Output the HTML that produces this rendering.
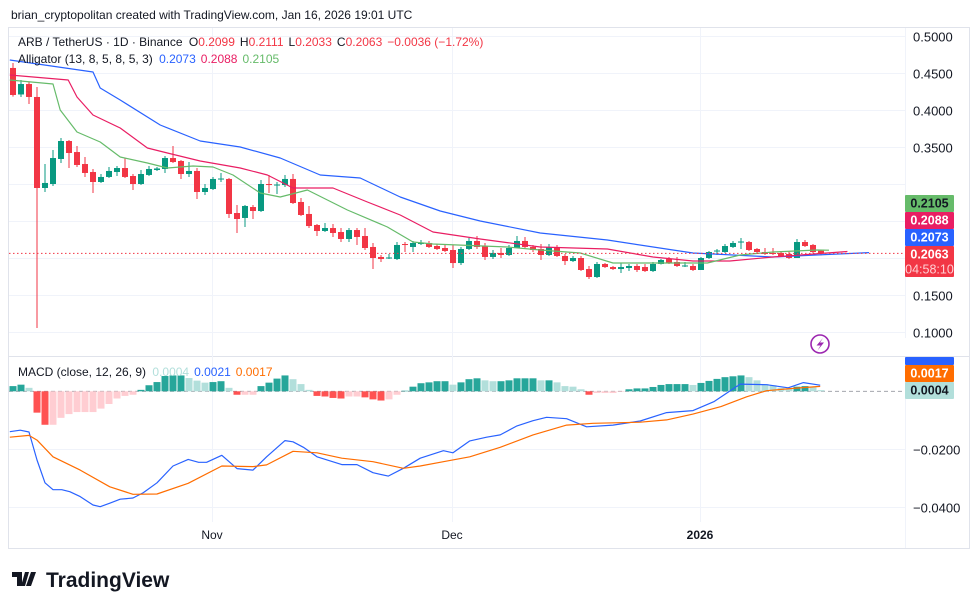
<!DOCTYPE html>
<html><head><meta charset="utf-8">
<style>
body{margin:0;background:#fff;font-family:"Liberation Sans",sans-serif;}
svg{display:block}
text{font-family:"Liberation Sans",sans-serif}
</style></head>
<body>
<svg id="c" width="980" height="609" viewBox="0 0 980 609" xmlns="http://www.w3.org/2000/svg">
<text x="11" y="19" font-size="12" fill="#131722">brian_cryptopolitan created with TradingView.com, Jan 16, 2026 19:01 UTC</text>
<rect x="8.5" y="27.5" width="961" height="521" fill="none" stroke="#e0e3eb"/>
<line x1="905.5" y1="28" x2="905.5" y2="548" stroke="#f0f3fa"/>
<line x1="9" y1="356.5" x2="969" y2="356.5" stroke="#e0e3eb"/>
<g id="grid"></g>
<g id="price"></g>
<g id="macd"></g>
<g id="axes"></g>
<text x="18" y="46" font-size="12" fill="#131722">ARB / TetherUS · 1D · Binance <tspan dx="3">O</tspan><tspan fill="#f23645">0.2099</tspan><tspan dx="5">H</tspan><tspan fill="#f23645">0.2111</tspan><tspan dx="5">L</tspan><tspan fill="#f23645">0.2033</tspan><tspan dx="5">C</tspan><tspan fill="#f23645">0.2063</tspan><tspan dx="5" fill="#f23645">−0.0036 (−1.72%)</tspan></text>
<text x="18" y="63" font-size="12" fill="#131722">Alligator (13, 8, 5, 8, 5, 3) <tspan dx="3" fill="#2962ff">0.2073</tspan><tspan dx="5" fill="#e91e63">0.2088</tspan><tspan dx="5" fill="#66bb6a">0.2105</tspan></text>
<text x="18" y="376" font-size="12" fill="#131722">MACD (close, 12, 26, 9) <tspan dx="3" fill="#b2dfdb">0.0004</tspan><tspan dx="5" fill="#2962ff">0.0021</tspan><tspan dx="5" fill="#ff6d00">0.0017</tspan></text>
<g><circle cx="820" cy="344" r="9" fill="#fff" stroke="#9c27b0" stroke-width="1.6"/><path d="M823 338 L816.5 345.5 L820.5 345.5 L817.5 350.5 L824 342.5 L820 342.5 Z" fill="#9c27b0"/></g>
<g><path d="M12 572 h10 v14 h-5 v-9 h-5z M25 572 h4 l-4 14 h-4z M31 572 h5 l-5 14 h-5z" fill="#131722"/><text x="46" y="587" font-size="21" font-weight="bold" fill="#131722">TradingView</text></g>
</svg>
<script>
// ---- price data (OHLC) ----
const opens=[.4568,.421,.4351,.4176,.2946,.30,.3338,.3581,.3432,.327,.3162,.3027,.3095,.3162,.3216,.3108,.30,.3122,.3189,.3203,.3351,.3311,.3135,.3176,.2892,.2932,.3061,.3068,.2608,.2541,.2689,.2635,.30,.2986,.2986,.3068,.2757,.2595,.2446,.2365,.2405,.2351,.2257,.2378,.2297,.2149,.2014,.1993,.1986,.2189,.2149,.2189,.2203,.2162,.2135,.2108,.1932,.2122,.223,.2162,.2014,.2068,.2041,.2135,.223,.2149,.2122,.2041,.2149,.2027,.1959,.20,.1851,.1743,.1919,.1878,.1851,.1865,.1892,.1878,.1824,.1919,.1986,.1946,.1885,.1892,.1838,.20,.2088,.2081,.2149,.2209,.2216,.2122,.2081,.2068,.2068,.2054,.20,.2216,.2176,.2099];
const highs=[.4635,.4405,.438,.4311,.327,.346,.3622,.3595,.3514,.3365,.3203,.3135,.323,.3243,.3351,.3135,.3189,.3243,.323,.3378,.3514,.3324,.3297,.3216,.30,.3095,.3149,.3081,.2716,.2716,.2716,.3054,.3122,.3027,.3122,.3135,.2811,.2703,.2459,.2473,.2459,.2405,.2405,.2405,.2405,.2203,.2041,.2054,.2216,.2216,.223,.2243,.223,.2189,.2189,.2176,.2149,.227,.2297,.2203,.2108,.2135,.2176,.2297,.2284,.2176,.2189,.2189,.2176,.2054,.2027,.2027,.1892,.1946,.1932,.1892,.1932,.1919,.1919,.1919,.1946,.1986,.2014,.2014,.1946,.1919,.2014,.2095,.2122,.2189,.223,.227,.223,.2135,.2135,.2135,.2095,.2095,.2257,.2243,.2189,.2111];
const lows=[.418,.4176,.4081,.1054,.2892,.2973,.3284,.3216,.323,.3095,.2878,.3014,.3081,.3108,.3081,.2919,.2986,.3108,.3176,.3149,.3284,.3068,.3095,.2797,.2851,.2919,.3027,.2541,.2338,.2419,.2527,.2622,.2878,.2865,.2959,.273,.2568,.2405,.2297,.2351,.2284,.2216,.2216,.2176,.2108,.1851,.1946,.1986,.1973,.2081,.2081,.2176,.2135,.2108,.2081,.1865,.1905,.2108,.2122,.1973,.1986,.20,.2027,.2203,.2135,.2081,.1973,.2027,.2014,.1905,.1946,.1824,.1716,.173,.1865,.1838,.1797,.1824,.1811,.1811,.1811,.1912,.1919,.1878,.1878,.1824,.1838,.1986,.2041,.2068,.2135,.2122,.2095,.2054,.2041,.2041,.2014,.1986,.20,.2149,.2068,.2033];
const closes=[.4203,.4351,.4176,.2946,.3014,.3351,.3581,.3419,.3257,.3149,.3027,.3095,.3176,.3216,.3095,.30,.3135,.3203,.321,.3351,.3297,.3135,.3176,.2892,.2946,.3068,.3074,.2595,.2527,.2703,.2635,.30,.2986,.2993,.3068,.2743,.2581,.2432,.2365,.2405,.2338,.2257,.2378,.2284,.2135,.20,.1986,.2007,.2176,.2176,.2203,.2203,.2149,.2122,.2095,.1932,.2122,.223,.2149,.2014,.2068,.2041,.2135,.223,.2149,.2108,.2041,.2149,.2027,.1959,.20,.1838,.1743,.1919,.1878,.1851,.1878,.1892,.1838,.1824,.1919,.1973,.1932,.1892,.1899,.1838,.20,.2081,.2101,.2162,.2203,.2223,.2108,.2081,.2054,.2054,.2027,.20,.2216,.2162,.2081,.2063];
// ---- alligator (bar index, value) ----
const jawIdx=[-0.4,10,10.9,13.4,18.4,23.4,28.4,33.4,38.4,43.4,48.4,53.4,58.4,65.9,74.3,82.5,85,95,107];
const jawVal=[.4676,.4514,.4297,.4135,.3797,.3581,.35,.3351,.3122,.3081,.2824,.2635,.25,.2338,.2243,.2108,.2068,.2014,.2073];
const teethIdx=[-0.4,6.9,8,10,13.4,16.8,19.3,23.4,28.4,31.8,35,40,44.3,48.4,52.5,58.4,65.9,74.3,80,85,89.6,95,104.3];
const teethVal=[.4473,.4405,.4176,.3932,.3757,.3486,.3419,.3311,.3216,.3122,.2946,.2946,.2757,.2581,.2351,.2257,.2149,.2122,.2014,.1959,.1959,.2014,.2088];
const lipsIdx=[-0.4,5,5.9,8,10.9,13.4,16.8,19.3,22.5,25,27.5,30.9,33.4,36.8,41.8,46.8,50,52.5,61.8,65.9,70.9,75,80,86.8,90.9,95,100.5,102];
const lipsVal=[.4405,.4351,.40,.3703,.3568,.3365,.3284,.3216,.3243,.323,.3122,.2878,.2824,.2919,.2649,.2419,.2216,.2189,.2149,.2108,.2068,.1932,.1932,.1932,.2041,.2081,.2108,.2105];
// ---- MACD ----
const histVal=[18,23,12,-74,-116,-116,-92,-79,-72,-72,-72,-60,-44,-25,-16,-12,5,21,32,53,55,55,46,37,30,32,35,12,-12,-12,-12,18,30,44,55,42,25,5,-16,-18,-23,-25,-18,-18,-21,-28,-32,-28,-12,2,16,28,31,35,35,23,31,42,45,38,35,35,38,45,45,45,38,38,31,18,16,7,-12,-6,-6,-6,-2,7,10,10,15,22,25,25,25,22,29,36,43,49,52,55,49,38,25,21,12,9,16,18,14,4].map(v=>v/10000);
const macdIdx=[-0.4,0.9,2,3,4,5,6.1,7.1,8.4,10,10.9,12.1,13.4,15,16.3,18,20,21.9,23.2,24.2,26.1,28,30,31.7,34,35,36.3,38,39.6,41.1,43,45,46.9,48.8,50.9,53.8,55,57.1,59.2,60.9,63,65,66.7,69.2,71.7,75,78.4,81.7,85,87.6,90.9,94.2,96.9,98.8,100.9];
const macdVal=[-.0140,-.0135,-.0141,-.0238,-.0317,-.0341,-.0341,-.0348,-.0365,-.0394,-.0400,-.0388,-.0374,-.0370,-.0351,-.0317,-.0259,-.0236,-.0246,-.0246,-.0222,-.0268,-.0273,-.0227,-.0171,-.0175,-.0194,-.0227,-.0241,-.0254,-.0254,-.0282,-.0294,-.0267,-.0232,-.0206,-.0213,-.0172,-.0159,-.0151,-.0120,-.0102,-.0090,-.0095,-.0123,-.0117,-.0103,-.0074,-.0067,-.0036,.0025,.0023,.0012,.0030,.0021];
const sigIdx=[-0.4,2,3,5,8.4,12.1,15,18,21.9,26.1,30,31.7,35,38,41.1,45,48.8,50.9,53.8,57.1,60.9,65,69.2,72.5,78.4,81.7,85,88.5,91.7,94.2,97.5,100.9];
const sigVal=[-.0159,-.0153,-.0169,-.0227,-.0273,-.0331,-.0357,-.0356,-.0319,-.0259,-.0261,-.0255,-.0208,-.0213,-.0232,-.0244,-.0267,-.0259,-.0244,-.0227,-.0194,-.0151,-.0117,-.0111,-.0107,-.0099,-.0079,-.0053,-.0019,.0002,.0010,.0017];
const priceTicks=[0.5,0.45,0.4,0.35,0.3,0.25,0.2,0.15,0.1];
const macdTicks=[-0.02,-0.04];
const timeLabels=["Nov","Dec","2026"];
const timeIdx=[25,55,86];

const NS="http://www.w3.org/2000/svg";
const X=i=>13+i*8;
const Y=p=>36+(0.5-p)*740;
const M=v=>391.3-v*2885;
function mk(tag,attrs,parent){const e=document.createElementNS(NS,tag);for(const k in attrs)e.setAttribute(k,attrs[k]);parent.appendChild(e);return e;}
const grid=document.getElementById('grid'),price=document.getElementById('price'),macd=document.getElementById('macd'),axes=document.getElementById('axes');

priceTicks.forEach(t=>{const y=Math.round(Y(t))+.5;
 const l=mk('line',{x1:9,x2:905,y1:y,y2:y,stroke:'#f0f3fa'},grid);
 
 
 if(t>0.31||t<0.19){const tx=mk('text',{x:913,y:y+5,'font-size':13,fill:'#131722'},axes);tx.textContent=t.toFixed(4);
 
 }
});
macdTicks.forEach(t=>{const y=Math.round(M(t))+.5;
 const l=mk('line',{x1:9,x2:905,y1:y,y2:y,stroke:'#f0f3fa'},grid);
 
 
 const tx=mk('text',{x:913,y:y+5,'font-size':13,fill:'#131722'},axes);tx.textContent='−'+Math.abs(t).toFixed(4);
 
 
});
timeLabels.forEach((s,k)=>{const x=X(timeIdx[k])-1;
 const l=mk('line',{x1:x+.5,x2:x+.5,y1:28,y2:522,stroke:'#f0f3fa'},grid);
 
 
 const tx=mk('text',{x:x,y:539,'font-size':12,fill:'#131722','text-anchor':'middle','font-weight':s==='2026'?'bold':'normal'},axes);tx.textContent=s;
 
 
});

// candles
opens.forEach((o,i)=>{const c=closes[i],up=c>=o,col=up?'#089981':'#f23645';const x=X(i);
 const g=mk('g',{},price);
 
 
 mk('line',{x1:x,x2:x,y1:Y(highs[i]),y2:Y(lows[i]),stroke:col,'stroke-width':1},g);
 const t=Math.min(Y(o),Y(c)),h=Math.max(1,Math.abs(Y(o)-Y(c)));
 mk('rect',{x:x-3,y:t,width:6,height:h,fill:col},g);
});
function line(idx,val,fy,col,parent,name){const d=idx.map((i,k)=>(k?'L':'M')+X(i).toFixed(1)+' '+fy(val[k]).toFixed(1)).join(' ');
 const p=mk('path',{d:d,fill:'none',stroke:col,'stroke-width':1.2,'stroke-linejoin':'round'},parent);
 
 }
line(jawIdx,jawVal,Y,'#2962ff',price,'alligator-jaw');
line(teethIdx,teethVal,Y,'#e91e63',price,'alligator-teeth');
line(lipsIdx,lipsVal,Y,'#66bb6a',price,'alligator-lips');
const lp=Y(closes[closes.length-1]);
const pl=mk('line',{x1:9,x2:905,y1:lp,y2:lp,stroke:'#f23645','stroke-dasharray':'1.5 2.5'},price);



// MACD
const zl=mk('line',{x1:9,x2:905,y1:M(0),y2:M(0),stroke:'#9598a1','stroke-dasharray':'4 3','stroke-width':.8},macd);


histVal.forEach((v,i)=>{const prev=i?histVal[i-1]:v;let col;
 if(v>=0)col=v>=prev?'#26a69a':'#b2dfdb';else col=v<prev?'#ff5252':'#ffcdd2';
 const y0=M(0),y1=M(v);
 const r=mk('rect',{x:X(i)-3.5,y:Math.min(y0,y1),width:7,height:Math.max(.5,Math.abs(y1-y0)),fill:col},macd);
 
 
});
line(macdIdx,macdVal,M,'#2962ff',macd,'macd-line');
line(sigIdx,sigVal,M,'#ff6d00',macd,'signal-line');

// axis tags
function tag(y,h,bg,fg,lines,name){const g=mk('g',{},axes);
 
 
 mk('rect',{x:905,y:y,width:49,height:h,fill:bg,rx:1},g);
 lines.forEach((s,k)=>{const t=mk('text',{x:929.5,y:y+12.5+k*15,'font-size':12.5,'font-weight':k?'normal':'bold',fill:k?'#ffd0d4':fg,'text-anchor':'middle'},g);t.textContent=s;});}
const mask=mk('rect',{x:905,y:338,width:64,height:18,fill:'#fff'},axes);


tag(195,17,'#66bb6a','#131722',['0.2105'],'lips-price-tag');
tag(212,17,'#e91e63','#fff',['0.2088'],'teeth-price-tag');
tag(229,17,'#2962ff','#fff',['0.2073'],'jaw-price-tag');
tag(246,31,'#f23645','#fff',['0.2063','04:58:10'],'last-price-tag');
tag(357,8,'#2962ff','#fff',[],'macd-value-tag');
tag(365,17,'#ff6d00','#fff',['0.0017'],'signal-value-tag');
tag(382,17,'#b2dfdb','#131722',['0.0004'],'histogram-value-tag');
</script>
</body></html>
